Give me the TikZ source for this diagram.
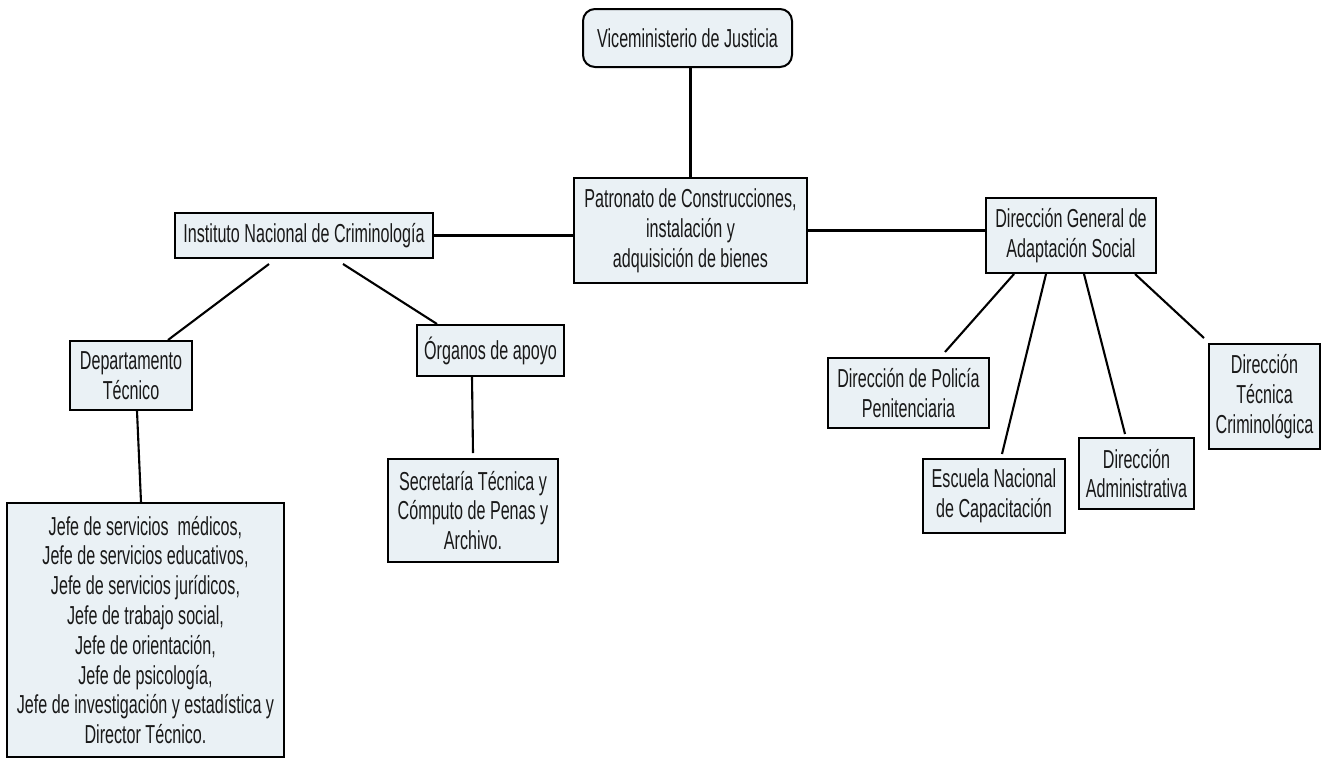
\documentclass[tikz,border=0pt]{standalone}
\usepackage{fontspec}
\setmainfont{Liberation Sans}[FakeStretch=0.62]
\definecolor{boxfill}{RGB}{234,241,245}
\definecolor{inkgray}{RGB}{25,25,25}
\tikzset{
  orgbox/.style={draw=black, line width=2pt, fill=boxfill, inner sep=0pt,
    align=center, text=inkgray, font=\fontsize{26}{29.8}\selectfont},
  link/.style={line width=2.1pt, black}
}
\begin{document}
\begin{tikzpicture}[x=1pt, y=1pt]
  \useasboundingbox (0,0) rectangle (1325,-758);

  % top of the chart
  \node[orgbox, rounded corners=12pt, minimum width=209, minimum height=58]
    (vice) at (687.5,-38) {Viceministerio de Justicia};
  \node[orgbox, minimum width=233, minimum height=105]
    (patr) at (690.5,-230.5) {Patronato de Construcciones,\\ instalación y\\ adquisición de bienes};

  % left branch
  \node[orgbox, minimum width=258, minimum height=45]
    (inst) at (304,-235.5) {Instituto Nacional de Criminología};
  \node[orgbox, minimum width=122, minimum height=69]
    (dept) at (131,-375.5) {Departamento\\ Técnico};
  \node[orgbox, minimum width=147, minimum height=51]
    (orga) at (490.5,-350.5) {Órganos de apoyo};
  \node[orgbox, minimum width=170, minimum height=103]
    (secr) at (473,-510.5) {Secretaría Técnica y\\ Cómputo de Penas y\\ Archivo.};
  \node[orgbox, minimum width=277, minimum height=254]
    (jefe) at (145.5,-630) {Jefe de servicios\ \ médicos,\\ Jefe de servicios educativos,\\
      Jefe de servicios jurídicos,\\ Jefe de trabajo social,\\ Jefe de orientación,\\
      Jefe de psicología,\\ Jefe de investigación y estadística y\\ Director Técnico.};

  % right branch
  \node[orgbox, minimum width=170, minimum height=75]
    (dgas) at (1071,-235.5) {Dirección General de\\ Adaptación Social};
  \node[orgbox, minimum width=161, minimum height=70]
    (poli) at (908.5,-393) {Dirección de Policía\\ Penitenciaria};
  \node[orgbox, minimum width=142, minimum height=74]
    (escu) at (994,-496) {Escuela Nacional\\ de Capacitación};
  \node[orgbox, minimum width=115, minimum height=71]
    (admi) at (1136.5,-473.5) {Dirección\\ Administrativa};
  \node[orgbox, minimum width=111, minimum height=105]
    (tecn) at (1264.5,-396.5) {Dirección\\ Técnica\\ Criminológica};

  % connectors
  \draw[link] (vice.south -| patr.north) -- (patr.north);
  \draw[link] (inst.east) -- (inst.east -| patr.west);
  \draw[link] (patr.east) -- (patr.east -| dgas.west);
  \draw[link] ([shift={(-35,-5)}]inst.south) -- ([xshift=37]dept.north);
  \draw[link] ([shift={(39,-5)}]inst.south) -- ([xshift=-53.5]orga.north);
  \draw[link] ([xshift=-18.5]orga.south) -- ([yshift=5]secr.north);
  \draw[link] ([xshift=6]dept.south) -- ([xshift=-4.5]jefe.north);
  \draw[link] ([xshift=-57]dgas.south) -- ([shift={(36.5,5)}]poli.north);
  \draw[link] ([xshift=-25]dgas.south) -- ([shift={(8,4)}]escu.north);
  \draw[link] ([xshift=13]dgas.south) -- ([shift={(-11.5,3)}]admi.north);
  \draw[link] ([xshift=64]dgas.south) -- ([shift={(-4,5)}]tecn.north west);
\end{tikzpicture}
\end{document}
